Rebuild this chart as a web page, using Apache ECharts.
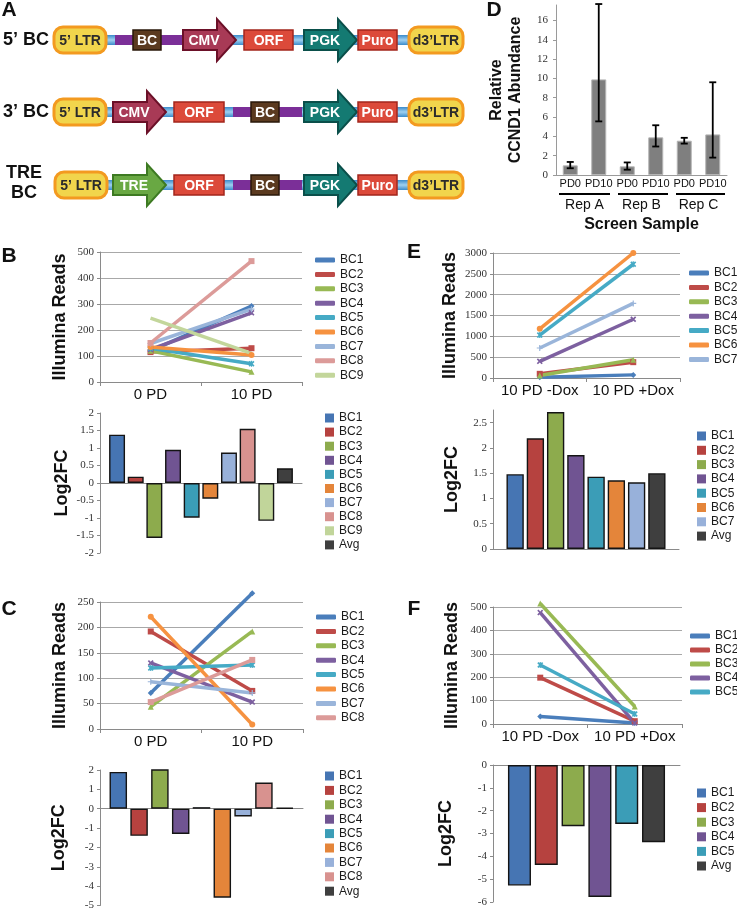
<!DOCTYPE html>
<html><head><meta charset="utf-8">
<script src="https://cdn.jsdelivr.net/npm/echarts@6.0.0/dist/echarts.min.js"></script>
<style>html,body{margin:0;padding:0;background:#fff}#c{width:737px;height:911px}</style>
</head><body><div id="c"></div><script>
// ---------------- DATA ----------------
const A_ROW_LABELS = [["5’ BC"], ["3’ BC"], ["TRE", "BC"]];
const A_ROW1_PARTS = ["5’ LTR", "BC", "CMV", "ORF", "PGK", "Puro", "d3’LTR"];
const A_ROW2_PARTS = ["5’ LTR", "CMV", "ORF", "BC", "PGK", "Puro", "d3’LTR"];
const A_ROW3_PARTS = ["5’ LTR", "TRE", "ORF", "BC", "PGK", "Puro", "d3’LTR"];

const B_CATS = ['0 PD', '10 PD'];
const B_NAMES = ['BC1','BC2','BC3','BC4','BC5','BC6','BC7','BC8','BC9'];
const B_READS_0PD  = [120, 115, 120, 125, 130, 135, 148, 150, 246];
const B_READS_10PD = [292, 130, 39, 266, 70, 104, 280, 465, 110];
const B_BAR_NAMES = ['BC1','BC2','BC3','BC4','BC5','BC6','BC7','BC8','BC9','Avg'];
const B_LOG2FC = [1.38, 0.18, -1.57, 0.95, -0.99, -0.45, 0.87, 1.55, -1.08, 0.42];

const C_CATS = ['0 PD', '10 PD'];
const C_NAMES = ['BC1','BC2','BC3','BC4','BC5','BC6','BC7','BC8'];
const C_READS_0PD  = [71, 192, 44, 130, 120, 221, 93, 53];
const C_READS_10PD = [267, 75, 192, 53, 126, 9, 71, 136];
const C_BAR_NAMES = ['BC1','BC2','BC3','BC4','BC5','BC6','BC7','BC8','Avg'];
const C_LOG2FC = [1.9, -1.4, 2.1, -1.3, 0.08, -4.6, -0.4, 1.35, 0.05];

const E_CATS = ['10 PD -Dox', '10 PD +Dox'];
const E_NAMES = ['BC1','BC2','BC3','BC4','BC5','BC6','BC7'];
const E_READS_MINUS = [20, 100, 60, 400, 1030, 1180, 720];
const E_READS_PLUS  = [75, 380, 440, 1410, 2730, 3000, 1790];
const E_BAR_NAMES = ['BC1','BC2','BC3','BC4','BC5','BC6','BC7','Avg'];
const E_LOG2FC = [1.48, 2.19, 2.71, 1.86, 1.43, 1.36, 1.32, 1.5];

const F_CATS = ['10 PD -Dox', '10 PD +Dox'];
const F_NAMES = ['BC1','BC2','BC3','BC4','BC5'];
const F_READS_MINUS = [32, 198, 515, 476, 252];
const F_READS_PLUS  = [4, 12, 75, 4, 43];
const F_BAR_NAMES = ['BC1','BC2','BC3','BC4','BC5','Avg'];
const F_LOG2FC = [-5.28, -4.38, -2.68, -5.78, -2.58, -3.38];

const D_CATS = ['PD0','PD10','PD0','PD10','PD0','PD10'];
const D_GROUPS = ['Rep A','Rep B','Rep C'];
const D_VALUES   = [1.0, 9.9, 0.9, 3.9, 3.55, 4.2];
const D_ERR_LOW  = [0.7, 5.55, 0.55, 2.95, 3.25, 1.8];
const D_ERR_HIGH = [1.35, 17.7, 1.3, 5.15, 3.85, 9.6];

// ---------------- STYLE ----------------
const SANS = 'Liberation Sans';
const SERIF = "'Liberation Serif', 'Times New Roman', serif";
const LINE_COLORS = ['#4a7ebb','#be4b48','#98b954','#7d60a0','#46aac5','#f69240','#9ab5da','#dc9b99','#c3d69b'];
const BAR_COLORS = {BC1:'#4675b3',BC2:'#b6423f',BC3:'#8dab4d',BC4:'#705492',BC5:'#3b9db7',BC6:'#e4853a',BC7:'#98b1da',BC8:'#d8928f',BC9:'#c1d59a',Avg:'#3f3f3f'};
const SYMBOLS = ['diamond','rect','triangle',
  'path://M0,2L2,0L5,3L8,0L10,2L7,5L10,8L8,10L5,7L2,10L0,8L3,5Z',
  'path://M0,2L2,0L4,2V0H6V2L8,0L10,2L7,5L10,8L8,10L6,8V10H4V8L2,10L0,8L3,5Z',
  'circle',
  'path://M4,0H6V4H10V6H6V10H4V6H0V4H4Z',
  'path://M0,4H10V6H0Z',
  'none'];
const AXIS_GRAY = '#8a8a8a';
const plainNum = v => String(v);

const grids = [], xAxes = [], yAxes = [], series = [], legends = [];

function valueAxis(gi, min, max, interval, name, nameGap, isLine, hideMax) {
  return {
    gridIndex: gi, type: 'value', min, max, interval,
    name, nameLocation: 'middle', nameRotate: 90, nameGap,
    nameTextStyle: {fontFamily: SANS, fontWeight: 'bold', fontSize: 18, color: '#111'},
    axisLine: {show: true, lineStyle: {color: AXIS_GRAY, width: 1}},
    axisTick: {show: true, length: 3, inside: false, lineStyle: {color: AXIS_GRAY}},
    axisLabel: {show: true, fontFamily: SERIF, fontSize: 11, color: '#333', margin: 6, showMaxLabel: !hideMax, formatter: plainNum},
    splitLine: {show: isLine, lineStyle: {color: '#a8a8a8', width: 1}}
  };
}

function legendCfg(names, colors, left, top, gap, icon, iw, ih) {
  return {
    orient: 'vertical', left, top, itemGap: gap, itemWidth: iw, itemHeight: ih, icon,
    padding: 0, selectedMode: false,
    textStyle: {fontFamily: SANS, fontSize: 12, color: '#1a1a1a'},
    data: names.map((n, i) => ({name: n, icon, itemStyle: {color: colors[i], borderWidth: 0}}))
  };
}

function linePanel(grid, cats, names, v0, v1, yMax, yInt, nameGap, leg) {
  grids.push(grid); const gi = grids.length - 1;
  xAxes.push({
    gridIndex: gi, type: 'category', data: cats, boundaryGap: true,
    axisLine: {show: true, lineStyle: {color: AXIS_GRAY, width: 1}},
    axisTick: {show: true, length: 4, alignWithLabel: false, interval: 0, lineStyle: {color: AXIS_GRAY}},
    axisLabel: {fontFamily: SANS, fontSize: 15, color: '#111', margin: 5, interval: 0, hideOverlap: false},
    splitLine: {show: false}
  });
  yAxes.push(valueAxis(gi, 0, yMax, yInt, 'Illumina Reads', nameGap, true, false));
  const xi = xAxes.length - 1, yi = yAxes.length - 1;
  names.forEach((n, i) => series.push({
    type: 'line', name: n, xAxisIndex: xi, yAxisIndex: yi, data: [v0[i], v1[i]],
    clip: false, symbol: SYMBOLS[i], symbolSize: 6, showSymbol: true,
    lineStyle: {width: 3.5, color: LINE_COLORS[i]},
    itemStyle: {color: LINE_COLORS[i]},
    emphasis: {disabled: true}, silent: true
  }));
  legends.push(legendCfg(names, names.map((n, i) => LINE_COLORS[i]), leg[0], leg[1], leg[2], 'roundRect', 20, 5));
}

function barPanel(grid, names, vals, min, max, yInt, nameGap, hideMax, barGap, catGap, leg) {
  grids.push(grid); const gi = grids.length - 1;
  xAxes.push({
    gridIndex: gi, type: 'category', data: [''],
    axisLine: {show: true, onZero: true, lineStyle: {color: AXIS_GRAY, width: 1}},
    axisTick: {show: false}, axisLabel: {show: false}, splitLine: {show: false}
  });
  yAxes.push(valueAxis(gi, min, max, yInt, 'Log2FC', nameGap, false, hideMax));
  const xi = xAxes.length - 1, yi = yAxes.length - 1;
  names.forEach((n, i) => series.push({
    type: 'bar', name: n, xAxisIndex: xi, yAxisIndex: yi, data: [vals[i]],
    barGap, barCategoryGap: catGap,
    itemStyle: {color: BAR_COLORS[n], borderColor: '#141414', borderWidth: 1.4},
    emphasis: {disabled: true}, silent: true
  }));
  legends.push(legendCfg(names, names.map(n => BAR_COLORS[n]), leg[0], leg[1], leg[2], 'rect', 9, 9));
}

// Panels B, C, E, F
linePanel({left: 100, top: 252, width: 202, height: 130}, B_CATS, B_NAMES, B_READS_0PD, B_READS_10PD, 500, 100, 31, [315, 254, 2.4]);
barPanel({left: 100, top: 413, width: 202, height: 140}, B_BAR_NAMES, B_LOG2FC, -2, 2, 0.5, 29, false, '17%', '9%', [325, 412, 2.1]);
linePanel({left: 100, top: 602, width: 203, height: 127}, C_CATS, C_NAMES, C_READS_0PD, C_READS_10PD, 250, 50, 31, [316, 611, 2.4]);
barPanel({left: 100, top: 770, width: 203, height: 136}, C_BAR_NAMES, C_LOG2FC, -5, 2, 1, 32, false, '19%', '9.4%', [325, 770, 2.4]);
linePanel({left: 493, top: 253, width: 187, height: 125}, E_CATS, E_NAMES, E_READS_MINUS, E_READS_PLUS, 3000, 500, 34, [689, 267, 2.4]);
barPanel({left: 493, top: 410, width: 186, height: 139}, E_BAR_NAMES, E_LOG2FC, 0, 2.75, 0.5, 32, true, '17%', '14.5%', [697, 430, 2.3]);
linePanel({left: 493, top: 607, width: 189, height: 117}, F_CATS, F_NAMES, F_READS_MINUS, F_READS_PLUS, 500, 100, 32, [690, 630, 2.0]);
barPanel({left: 493, top: 765, width: 187, height: 137}, F_BAR_NAMES, F_LOG2FC, -6, 0, 1, 38, false, '16.5%', '16%', [697, 787, 2.6]);

// Panel D
grids.push({left: 556, top: 5, width: 171, height: 170});
const dG = grids.length - 1;
xAxes.push({
  gridIndex: dG, type: 'category', data: D_CATS, position: 'bottom',
  axisLine: {show: true, lineStyle: {color: '#9a9a9a'}}, axisTick: {show: false},
  axisLabel: {fontFamily: SANS, fontSize: 11, color: '#111', margin: 3, interval: 0, hideOverlap: false}
});
const dX = xAxes.length - 1;
xAxes.push({
  gridIndex: dG, type: 'category', data: D_GROUPS, position: 'bottom', offset: 0,
  axisLine: {show: false}, axisTick: {show: false},
  axisLabel: {fontFamily: SANS, fontSize: 14, color: '#111', margin: 23, interval: 0},
  name: 'Screen Sample', nameLocation: 'middle', nameGap: 42,
  nameTextStyle: {fontFamily: SANS, fontWeight: 'bold', fontSize: 16, color: '#111'}
});
yAxes.push({
  gridIndex: dG, type: 'value', min: 0, max: 17.6, interval: 2,
  name: 'Relative\nCCND1 Abundance', nameLocation: 'middle', nameRotate: 90, nameGap: 31,
  nameTextStyle: {fontFamily: SANS, fontWeight: 'bold', fontSize: 16, color: '#111', lineHeight: 19},
  axisLine: {show: true, lineStyle: {color: '#9a9a9a'}},
  axisTick: {show: true, length: 3, lineStyle: {color: '#9a9a9a'}},
  axisLabel: {fontFamily: SERIF, fontSize: 11, color: '#333', margin: 8, showMaxLabel: false, formatter: plainNum},
  splitLine: {show: false}
});
const dY = yAxes.length - 1;
series.push({
  type: 'bar', name: 'CCND1', xAxisIndex: dX, yAxisIndex: dY, data: D_VALUES, barWidth: 15,
  itemStyle: {color: '#7f7f7f', borderColor: '#b5b5b5', borderWidth: 1}, silent: true
});
series.push({
  type: 'custom', name: 'err', xAxisIndex: dX, yAxisIndex: dY, silent: true, z: 10,
  data: D_VALUES.map((v, i) => [i, D_ERR_LOW[i], D_ERR_HIGH[i]]),
  encode: {x: 0, y: [1, 2]},
  renderItem: function (params, api) {
    const x = api.value(0);
    const lo = api.coord([x, api.value(1)]);
    const hi = api.coord([x, api.value(2)]);
    const st = {stroke: '#000', lineWidth: 1.8};
    return {type: 'group', children: [
      {type: 'line', shape: {x1: lo[0], y1: lo[1], x2: hi[0], y2: hi[1]}, style: st},
      {type: 'line', shape: {x1: lo[0] - 3.5, y1: lo[1], x2: lo[0] + 3.5, y2: lo[1]}, style: st},
      {type: 'line', shape: {x1: hi[0] - 3.5, y1: hi[1], x2: hi[0] + 3.5, y2: hi[1]}, style: st}
    ]};
  }
});

// ---------------- GRAPHIC (panel A diagram, letters, D group bars) ----------------
const G = [];
function txt(x, y, text, font, fill, align, rotation) {
  G.push({type: 'text', x, y, rotation: rotation || 0, silent: true,
    style: {text, font, fill, align: align || 'center', verticalAlign: 'middle'}});
}
const PART_STYLE = {
  CMV: {fill: '#a83a56', stroke: '#6b1028'},
  TRE: {fill: '#69a843', stroke: '#3d7a22'},
  PGK: {fill: '#147a72', stroke: '#0a4f4a'},
  ORF: {fill: '#dc4a3a', stroke: '#a3261c'},
  Puro: {fill: '#dc4a3a', stroke: '#a3261c'},
  BC: {fill: '#5b3a1f', stroke: '#2a180a'}
};
const A_LAYOUT = [
  {cy: 40, spans: [[54,106],[133,161],[183,236],[244,293],[304,357],[358,397],[409,463]], purple: [115,182]},
  {cy: 112, spans: [[54,106],[113,166],[174,224],[251,279],[304,357],[358,397],[409,463]], purple: [233,302]},
  {cy: 185, spans: [[55,107],[113,166],[174,224],[251,279],[304,357],[358,397],[409,463]], purple: [233,302]}
];
const A_PARTS = [A_ROW1_PARTS, A_ROW2_PARTS, A_ROW3_PARTS];
A_PARTS.forEach((parts, r) => {
  const L = A_LAYOUT[r], cy = L.cy;
  G.push({type: 'rect', silent: true, shape: {x: 106, y: cy - 5, width: 303, height: 10},
    style: {fill: new echarts.graphic.LinearGradient(0, 0, 0, 1, [
      {offset: 0, color: '#3b8bcb'}, {offset: 0.5, color: '#9fd0f0'}, {offset: 1, color: '#3b8bcb'}])}});
  G.push({type: 'rect', silent: true, shape: {x: L.purple[0], y: cy - 5, width: L.purple[1] - L.purple[0], height: 10},
    style: {fill: '#7b2f98'}});
  parts.forEach((p, k) => {
    const [x1, x2] = L.spans[k];
    if (p.indexOf('LTR') >= 0) {
      G.push({type: 'rect', silent: true, shape: {x: x1, y: cy - 13, width: x2 - x1, height: 26, r: 9},
        style: {fill: '#f1d54c', stroke: '#f39a20', lineWidth: 3}});
      txt((x1 + x2) / 2, cy + 1, p, 'bold 14px "Liberation Sans"', '#2b2b2b');
    } else if (p === 'CMV' || p === 'TRE' || p === 'PGK') {
      const s = PART_STYLE[p], xh = x2 - 19;
      G.push({type: 'polygon', silent: true, shape: {points: [[x1, cy - 10], [xh, cy - 10], [xh, cy - 21], [x2, cy], [xh, cy + 21], [xh, cy + 10], [x1, cy + 10]]},
        style: {fill: s.fill, stroke: s.stroke, lineWidth: 2}});
      txt((x1 + xh) / 2 + 4, cy + 1, p, 'bold 14px "Liberation Sans"', '#ffffff');
    } else {
      const s = PART_STYLE[p];
      G.push({type: 'rect', silent: true, shape: {x: x1, y: cy - 10, width: x2 - x1, height: 20},
        style: {fill: s.fill, stroke: s.stroke, lineWidth: 1.5}});
      txt((x1 + x2) / 2, cy + 1, p, 'bold 14px "Liberation Sans"', '#ffffff');
    }
  });
  const lab = A_ROW_LABELS[r];
  if (lab.length === 1) txt(26, cy, lab[0], 'bold 18px "Liberation Sans"', '#111');
  else { txt(24, cy - 12, lab[0], 'bold 18px "Liberation Sans"', '#111'); txt(24, cy + 8, lab[1], 'bold 18px "Liberation Sans"', '#111'); }
});
[['A', 9, 10], ['B', 9, 256], ['C', 9, 609], ['D', 494, 10], ['E', 414, 252], ['F', 414, 609]].forEach(l =>
  txt(l[1], l[2], l[0], 'bold 21px "Liberation Sans"', '#111'));
[[559, 610], [618, 668], [676, 725]].forEach(s =>
  G.push({type: 'line', silent: true, shape: {x1: s[0], y1: 194, x2: s[1], y2: 194}, style: {stroke: '#000', lineWidth: 2}}));

const chart = echarts.init(document.getElementById('c'), null, {renderer: 'canvas'});
chart.setOption({
  animation: false,
  backgroundColor: '#ffffff',
  tooltip: {show: false},
  grid: grids, xAxis: xAxes, yAxis: yAxes, series, legend: legends,
  graphic: {elements: G}
});
</script></body></html>
